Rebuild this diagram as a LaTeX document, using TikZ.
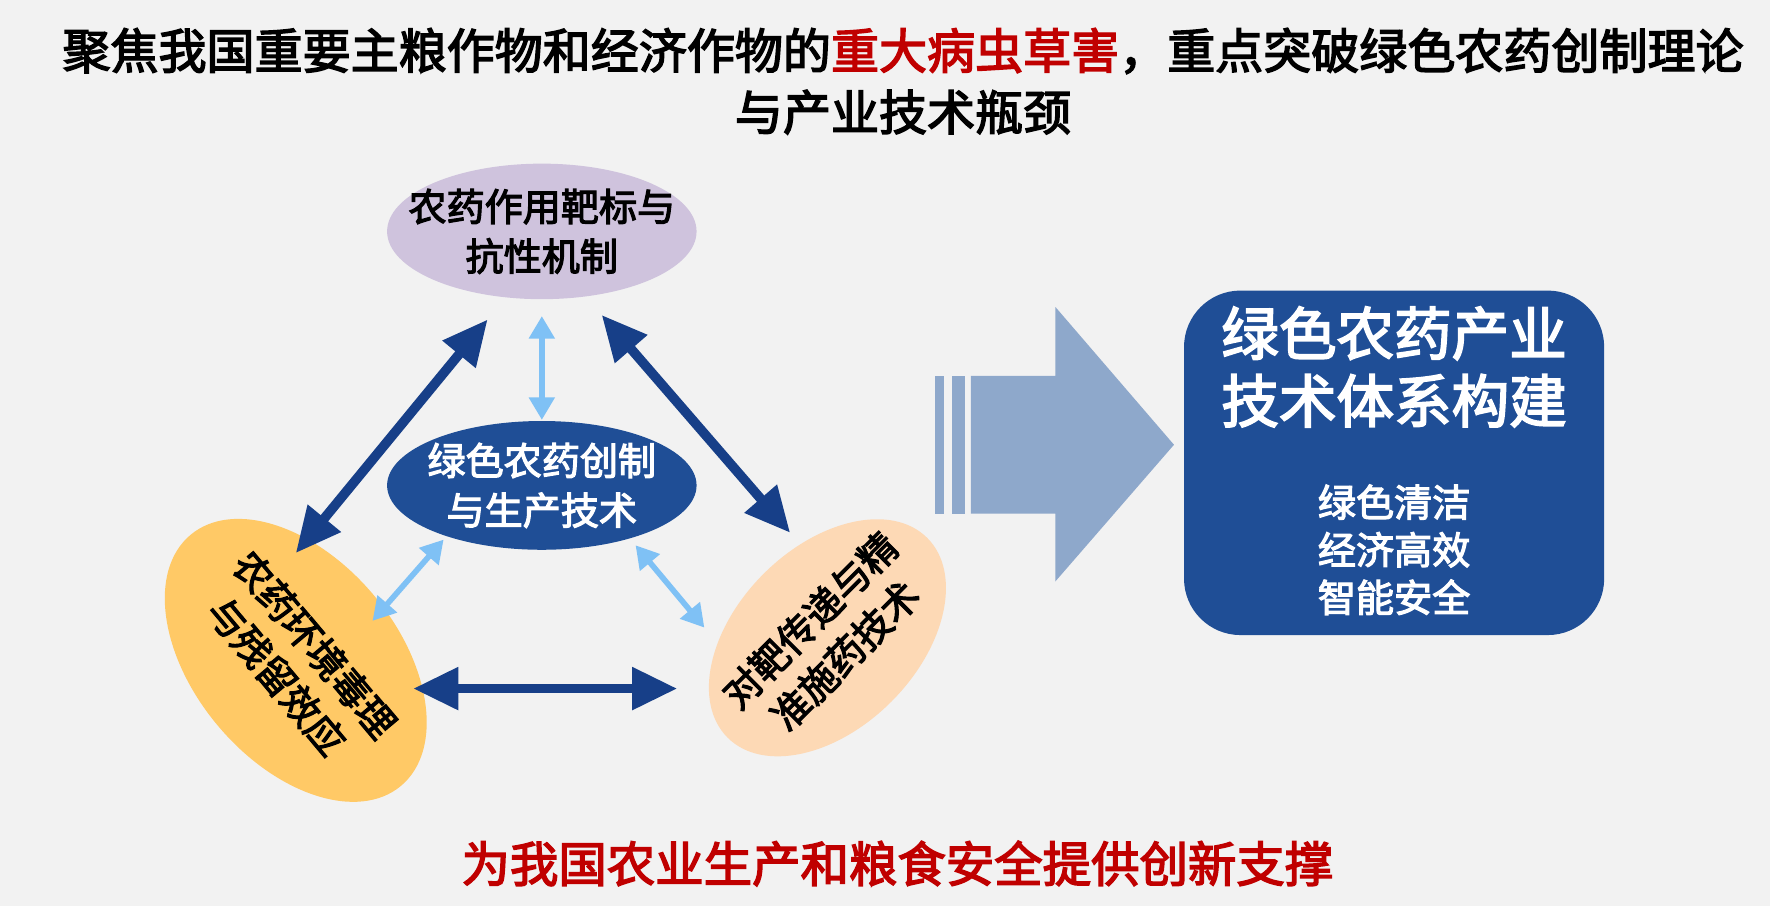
\documentclass[tikz,border=0pt]{standalone}
\usepackage{fontspec}
\setmainfont{Noto Sans CJK SC}[AutoFakeBold=3]
\usetikzlibrary{shapes.geometric,arrows.meta}
\definecolor{bgrey}{HTML}{F2F2F2}
\definecolor{dblue}{HTML}{1F4E96}
\definecolor{ablue}{HTML}{173F88}
\definecolor{lblue}{HTML}{7FC1F5}
\definecolor{pblue}{HTML}{8EA8CB}
\definecolor{lav}{HTML}{CFC3DD}
\definecolor{gold}{HTML}{FFC966}
\definecolor{peach}{HTML}{FDD9B5}
\definecolor{dred}{HTML}{C00000}
\begin{document}
\begin{tikzpicture}[x=0.01cm,y=-0.01cm]
 \tikzset{bub/.style={ellipse,align=center,font=\fontsize{9.6}{12.5}\selectfont\bfseries,inner sep=-8pt},
  bigarr/.style={draw=ablue,line width=0.085cm,{Triangle[length=0.4cm,width=0.36cm]}-{Triangle[length=0.4cm,width=0.36cm]}},
  smallarr/.style={draw=lblue,line width=0.05cm,{Triangle[length=0.2cm,width=0.22cm]}-{Triangle[length=0.2cm,width=0.22cm]}}}
 \fill[bgrey] (0,0) rectangle (1568,803);
 \useasboundingbox (0,0) rectangle (1568,803);

 \node (title) at (800,72) [align=center,font=\fontsize{12.1}{15.5}\selectfont\bfseries]
   {聚焦我国重要主粮作物和经济作物的\textcolor{dred}{重大病虫草害}，重点突破绿色农药创制理论\\与产业技术瓶颈};

 \node (top) at (480,205) [bub,fill=lav,minimum width=2.74cm,minimum height=1.2cm] {农药作用靶标与\\抗性机制};
 \node (mid) at (480,430) [bub,fill=dblue,text=white,minimum width=2.74cm,minimum height=1.14cm] {绿色农药创制\\与生产技术};
 \node (left) at (262,585) [bub,fill=gold,rotate=-50,minimum width=2.9cm,minimum height=1.8cm] {农药环境毒理\\与残留效应};
 \node (right) at (733,565) [bub,fill=peach,rotate=45,minimum width=2.5cm,minimum height=1.6cm] {对靶传递与精\\准施药技术};

 \coordinate (a1) at (432,283); \coordinate (a2) at (262,490);
 \coordinate (b1) at (533,279); \coordinate (b2) at (700,472);
 \coordinate (c1) at (366,610); \coordinate (c2) at (600,610);
 \draw[bigarr] (a1) -- (a2);
 \draw[bigarr] (b1) -- (b2);
 \draw[bigarr] (c1) -- (c2);

 \coordinate (d1) at (480,280); \coordinate (d2) at (480,372);
 \coordinate (e1) at (393,478); \coordinate (e2) at (330,550);
 \coordinate (f1) at (563,483); \coordinate (f2) at (624,556);
 \draw[smallarr] (d1) -- (d2);
 \draw[smallarr] (e1) -- (e2);
 \draw[smallarr] (f1) -- (f2);

 % broad arrow
 \fill[pblue] (828,333) rectangle (836,455);
 \fill[pblue] (843,333) rectangle (855,455);
 \fill[pblue] (860,333) -- (935,333) -- (935,272) -- (1040,394) -- (935,515) -- (935,455) -- (860,455) -- cycle;

 \node (sys) at (1235,410) [draw=none,fill=dblue,rounded corners=0.5cm,minimum width=3.72cm,minimum height=3.05cm] {};
 \node (systitle) at (1235,325) [text=white,align=center,font=\fontsize{14.5}{17}\selectfont\bfseries] {绿色农药产业\\技术体系构建};
 \node (sysaims) at (1235,487) [text=white,align=center,font=\fontsize{9.6}{12}\selectfont\bfseries] {绿色清洁\\经济高效\\智能安全};

 \node (goal) at (795,765) [text=dred,font=\fontsize{12.2}{14}\selectfont\bfseries] {为我国农业生产和粮食安全提供创新支撑};
\end{tikzpicture}
\end{document}
